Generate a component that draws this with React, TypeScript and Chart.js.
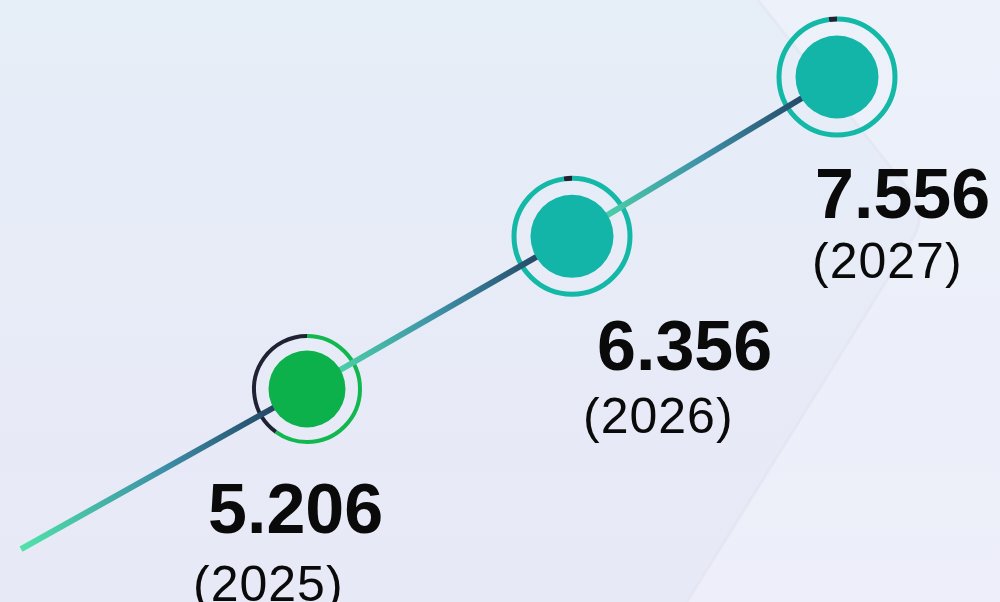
import React, { useEffect, useRef } from 'react';
import { Chart, registerables } from 'chart.js';

Chart.register(...registerables);

// ---- data ----
const years = ['2025', '2026', '2027'];
const values = [5.206, 6.356, 7.556];
const valueLabels = ['5.206', '6.356', '7.556'];
const yearLabels = ['(2025)', '(2026)', '(2027)'];
const progress = [0.6, 0.978, 0.978];

// ---- styles ----
const fillColors = ['#0cb14b', '#12b5a7', '#12b5a7'];
const ringColors = ['#12b84f', '#14b8a6', '#14b8a6'];
const ringTrack = '#1f2233';
const innerRadius = [38.5, 41.5, 41.5];
const ringRadius = [53, 58, 58];
const ringWidth = [4, 5, 5];
const labelOffsets = [
  { nx: -99, ny: 144, yx: -114, yy: 212 },
  { nx: 25, ny: 134, yx: 11, yy: 197 },
  { nx: -22, ny: 141, yx: -25, yy: 201 },
];
const FONT = '"Liberation Sans", Arial, Helvetica, sans-serif';

function lineGradient(ctx: CanvasRenderingContext2D, x0: number, y0: number, x1: number, y1: number) {
  const g = ctx.createLinearGradient(x0, y0, x1, y1);
  g.addColorStop(0, '#50e3a8');
  g.addColorStop(0.5, '#3d8fa6');
  g.addColorStop(1, '#1c3152');
  return g;
}

const backgroundPlugin = {
  id: 'bgDeco',
  beforeDraw(chart: any) {
    const { ctx, width, height } = chart;
    ctx.save();
    const g = ctx.createLinearGradient(0, 0, 0, height);
    g.addColorStop(0, '#e6eef8');
    g.addColorStop(1, '#e8e9f6');
    ctx.fillStyle = g;
    ctx.fillRect(0, 0, width, height);
    // lighter panel on the right
    ctx.beginPath();
    ctx.moveTo(width, 0);
    ctx.lineTo(758, 0);
    ctx.arcTo(928, 214, 687, height, 40);
    ctx.lineTo(687, height);
    ctx.lineTo(width, height);
    ctx.closePath();
    ctx.fillStyle = 'rgba(241,243,251,0.5)';
    ctx.fill();
    ctx.beginPath();
    ctx.moveTo(758, 0);
    ctx.arcTo(928, 214, 687, height, 40);
    ctx.lineTo(687, height);
    ctx.strokeStyle = 'rgba(220,222,236,0.35)';
    ctx.lineWidth = 3;
    ctx.stroke();
    ctx.restore();
  },
};

const markersPlugin = {
  id: 'markers',
  beforeDatasetsDraw(chart: any) {
    const { ctx } = chart;
    const pts = chart.getDatasetMeta(0).data;
    ctx.save();
    pts.forEach((p: any, i: number) => {
      const start = -Math.PI / 2;
      const mid = start + Math.PI * 2 * progress[i];
      ctx.lineWidth = ringWidth[i];
      ctx.beginPath();
      ctx.arc(p.x, p.y, ringRadius[i], start, mid);
      ctx.strokeStyle = ringColors[i];
      ctx.stroke();
      ctx.beginPath();
      ctx.arc(p.x, p.y, ringRadius[i], mid, start + Math.PI * 2);
      ctx.strokeStyle = ringTrack;
      ctx.stroke();
    });
    // leading line coming into the first point
    if (pts.length) {
      const p = pts[0];
      const x0 = 21;
      const y0 = p.y + (p.x - x0) * 0.56;
      ctx.beginPath();
      ctx.moveTo(x0, y0);
      ctx.lineTo(p.x, p.y);
      ctx.lineWidth = 6;
      ctx.lineCap = 'butt';
      ctx.strokeStyle = lineGradient(ctx, x0, y0, p.x, p.y);
      ctx.stroke();
    }
    ctx.restore();
  },
  afterDatasetsDraw(chart: any) {
    const { ctx } = chart;
    const pts = chart.getDatasetMeta(0).data;
    ctx.save();
    pts.forEach((p: any, i: number) => {
      ctx.beginPath();
      ctx.arc(p.x, p.y, innerRadius[i], 0, Math.PI * 2);
      ctx.fillStyle = fillColors[i];
      ctx.fill();
      const o = labelOffsets[i];
      ctx.fillStyle = '#0a0a0a';
      ctx.textAlign = 'left';
      ctx.textBaseline = 'alphabetic';
      (ctx as any).letterSpacing = '0px';
      ctx.font = `bold 70px ${FONT}`;
      ctx.fillText(valueLabels[i], p.x + o.nx, p.y + o.ny);
      (ctx as any).letterSpacing = '1px';
      ctx.font = `50px ${FONT}`;
      ctx.fillText(yearLabels[i], p.x + o.yx, p.y + o.yy);
      (ctx as any).letterSpacing = '0px';
    });
    ctx.restore();
  },
};

export default function App() {
  const canvasRef = useRef<HTMLCanvasElement | null>(null);

  useEffect(() => {
    const canvas = canvasRef.current;
    if (!canvas) return;
    const ctx2d = canvas.getContext('2d') as CanvasRenderingContext2D;
    const chart = new Chart(canvas, {
      type: 'line',
      data: {
        labels: years,
        datasets: [
          {
            data: values,
            borderWidth: 6,
            borderColor: '#2f6f8f',
            pointRadius: 0,
            pointHoverRadius: 0,
            tension: 0,
            fill: false,
            borderCapStyle: 'butt',
            segment: {
              borderColor: (c: any) =>
                lineGradient(ctx2d, c.p0.x, c.p0.y, c.p1.x, c.p1.y),
            },
          } as any,
        ],
      },
      options: {
        animation: false,
        responsive: true,
        maintainAspectRatio: false,
        layout: { padding: { left: 307, right: 163, top: 77, bottom: 213 } },
        scales: {
          x: { type: 'category', display: false, offset: false },
          y: {
            type: 'linear',
            display: false,
            min: Math.min(...values),
            max: Math.max(...values),
          },
        },
        plugins: {
          legend: { display: false },
          tooltip: { enabled: false },
        },
        events: [],
      },
      plugins: [backgroundPlugin, markersPlugin],
    });
    return () => chart.destroy();
  }, []);

  return (
    <div style={{ position: 'fixed', left: 0, top: 0, width: 1000, height: 602 }}>
      <canvas ref={canvasRef} />
    </div>
  );
}
